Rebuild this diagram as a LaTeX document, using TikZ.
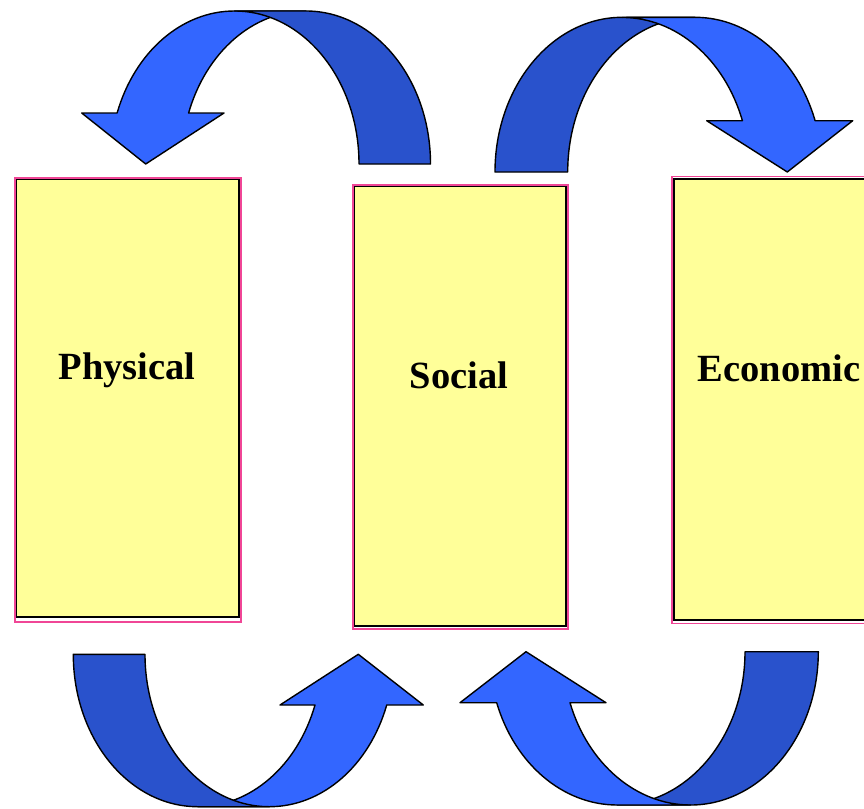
\documentclass[tikz,border=0pt]{standalone}
\usepackage{fontspec}
\setmainfont{Liberation Serif}
\definecolor{panelfill}{RGB}{255,255,153}
\definecolor{framepink}{RGB}{240,70,150}
\definecolor{arrowlight}{RGB}{51,102,255}
\definecolor{arrowdark}{RGB}{41,82,204}
\begin{document}
\begin{tikzpicture}[x=1pt,y=-1pt,
  panel/.style={rectangle, fill=panelfill, draw=black, line width=1.6pt, inner sep=0pt, outer sep=0pt},
  frame/.style={draw=framepink, line width=1.3pt},
  label/.style={anchor=base, font=\bfseries\fontsize{38.5}{44}\selectfont, inner sep=0pt},
  front/.style={fill=arrowlight, draw=black, line width=1.4pt, line join=round},
  back/.style={fill=arrowdark, draw=black, line width=1.4pt, line join=round}]
\useasboundingbox (0,0) rectangle (864,808);
\clip (0,0) rectangle (864,808);

% three panels with their pink frames
\node[panel, minimum width=223pt, minimum height=438pt] (physbox) at (127.5,398) {};
\draw[frame] (15,178) rectangle (241,622);
\node[panel, minimum width=212pt, minimum height=440pt] (socbox) at (460,406) {};
\draw[frame] (353,185) rectangle (568,629);
\node[panel, minimum width=226pt, minimum height=441pt] (ecobox) at (787,399.5) {};
\draw[frame] (672,176.5) rectangle (902,623.5);

\node[label] (physical) at (127,379) {Physical};
\node[label] (social) at (459,388) {Social};
\node[label] (economic) at (779,381) {Economic};

% curved arrow: Social -> Physical (top left)
\path[front] (117.1,113) -- (81.7,113) -- (145.7,164) -- (224,113) -- (188.6,113)
  arc[start angle=-160.53, end angle=-90, x radius=124.5, y radius=153]
  -- (234.5,11)
  arc[start angle=-90, end angle=-160.53, x radius=124.5, y radius=153] -- cycle;
\path[back] (359,164) -- (430.5,164)
  arc[start angle=0, end angle=-90, x radius=124.5, y radius=153]
  -- (234.5,11)
  arc[start angle=-90, end angle=0, x radius=124.5, y radius=153] -- cycle;

% curved arrow: Social -> Economic (top right)
\path[back] (495,172) -- (567.7,172)
  arc[start angle=180, end angle=270, x radius=127.3, y radius=154.7]
  -- (622.3,17.3)
  arc[start angle=270, end angle=180, x radius=127.3, y radius=154.7] -- cycle;
\path[front] (815.1,120.7) -- (852.7,120.7) -- (787.3,172) -- (706.7,120.7) -- (742.4,120.7)
  arc[start angle=-19.43, end angle=-90, x radius=127.3, y radius=154.7]
  -- (695,17.3)
  arc[start angle=-90, end angle=-19.43, x radius=127.3, y radius=154.7] -- cycle;

% curved arrow: Physical -> Social (bottom left)
\path[front] (386.7,705) -- (423.3,705) -- (358.3,654.3) -- (280,705) -- (315,705)
  arc[start angle=19.43, end angle=90, x radius=124.4, y radius=152.4]
  -- (269.4,806.7)
  arc[start angle=90, end angle=19.43, x radius=124.4, y radius=152.4] -- cycle;
\path[back] (73.3,654.3) -- (145,654.3)
  arc[start angle=180, end angle=90, x radius=124.4, y radius=152.4]
  -- (197.7,806.7)
  arc[start angle=90, end angle=180, x radius=124.4, y radius=152.4] -- cycle;

% curved arrow: Economic -> Social (bottom right)
\path[back] (818.3,651.7) -- (745,651.7)
  arc[start angle=0, end angle=90, x radius=127.8, y radius=153.3]
  -- (690.5,805)
  arc[start angle=90, end angle=0, x radius=127.8, y radius=153.3] -- cycle;
\path[front] (496.7,702.7) -- (460,702.7) -- (526,651.7) -- (606,702.7) -- (570,702.7)
  arc[start angle=160.57, end angle=90, x radius=127.8, y radius=153.3]
  -- (617.2,805)
  arc[start angle=90, end angle=160.57, x radius=127.8, y radius=153.3] -- cycle;
\end{tikzpicture}
\end{document}
